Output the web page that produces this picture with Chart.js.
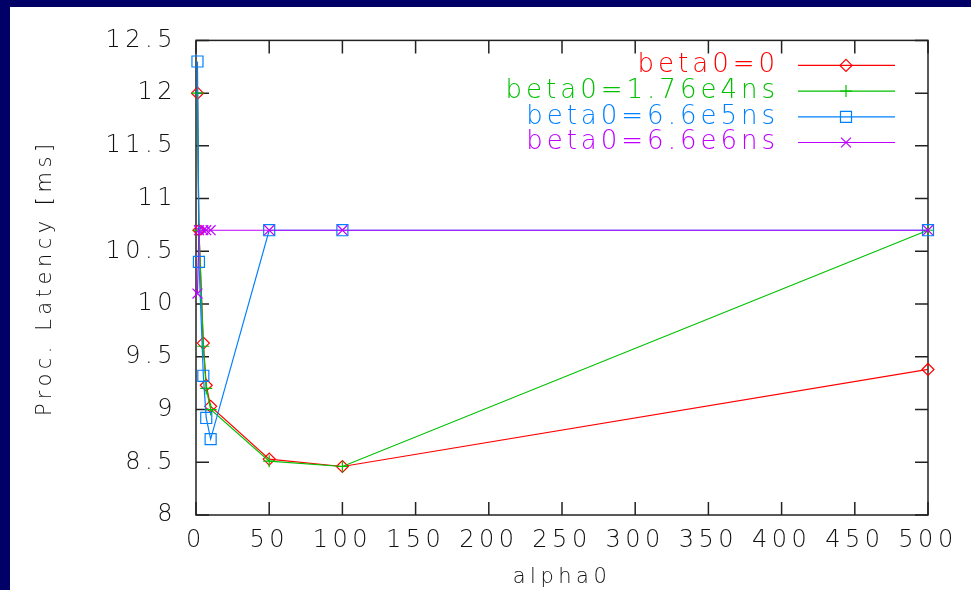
<!DOCTYPE html>
<html>
<head>
<meta charset="utf-8">
<script src="https://cdn.jsdelivr.net/npm/chart.js@4/dist/chart.umd.min.js"></script>
<style>
  html, body { margin: 0; padding: 0; background: #000066; overflow: hidden; }
  #frame { position: absolute; left: 10px; top: 7px; right: -40px; bottom: -40px; background: #fff; }
</style>
</head>
<body>
<div id="frame"><canvas id="myChart" width="961" height="583"></canvas></div>
<script>
    // alpha0 values and latency per beta0 setting
    var alphas = [1, 2, 5, 7, 10, 50, 100, 500];
    var beta0_0 = [12.0, 10.7, 9.63, 9.23, 9.03, 8.53, 8.46, 9.38];
    var beta0_176e4 = [12.0, 10.7, 9.6, 9.2, 9.0, 8.51, 8.46, 10.7];
    var beta0_66e5 = [12.3, 10.4, 9.32, 8.92, 8.72, 10.7, 10.7, 10.7];
    var beta0_66e6 = [10.1, 10.7, 10.7, 10.7, 10.7, 10.7, 10.7, 10.7];
    var seriesNames = ["beta0=0", "beta0=1.76e4ns", "beta0=6.6e5ns", "beta0=6.6e6ns"];
    var xTicks = [0, 50, 100, 150, 200, 250, 300, 350, 400, 450, 500];
    var yTicks = [8, 8.5, 9, 9.5, 10, 10.5, 11, 11.5, 12, 12.5];

    function pts(ys) {
      var out = [];
      for (let i = 0; i < alphas.length; i++) {
        out.push({x: alphas[i], y: ys[i]});
      }
      return out;
    }

    function series(name, ys, color, style, radius, order) {
      return {
        label: name,
        data: pts(ys),
        showLine: true,
        borderColor: color,
        backgroundColor: 'rgba(0,0,0,0)',
        borderWidth: 1.2,
        pointStyle: style,
        pointRadius: radius,
        pointBorderColor: color,
        pointBackgroundColor: 'rgba(0,0,0,0)',
        pointBorderWidth: 1.2,
        clip: false,
        order: order
      };
    }

    var textFont = "'DejaVu Sans', sans-serif";

    // border box + inward ticks on all four sides, gnuplot style
    var frameTicks = {
      id: 'frameTicks',
      beforeDraw: function (chart) {
        chart.ctx.letterSpacing = '4.5px';
      },
      beforeDatasetsDraw: function (chart) {
        var ctx = chart.ctx, a = chart.chartArea;
        var xs = chart.scales.x, ys = chart.scales.y;
        ctx.save();
        ctx.strokeStyle = '#222';
        ctx.lineWidth = 1.5;
        ctx.strokeRect(a.left, a.top, a.right - a.left, a.bottom - a.top);
        ctx.beginPath();
        xs.ticks.forEach(function (t) {
          var px = xs.getPixelForValue(t.value);
          ctx.moveTo(px, a.bottom); ctx.lineTo(px, a.bottom - 13);
          ctx.moveTo(px, a.top); ctx.lineTo(px, a.top + 13);
        });
        ys.ticks.forEach(function (t) {
          var py = ys.getPixelForValue(t.value);
          ctx.moveTo(a.left, py); ctx.lineTo(a.left + 13, py);
          ctx.moveTo(a.right, py); ctx.lineTo(a.right - 13, py);
        });
        ctx.stroke();
        ctx.restore();
      },
      // legend: text right aligned, line sample with marker on the right
      afterDatasetsDraw: function (chart) {
        var ctx = chart.ctx, a = chart.chartArea;
        var sets = chart.data.datasets;
        ctx.save();
        ctx.letterSpacing = '4px';
        ctx.font = "200 26px " + textFont;
        ctx.textAlign = 'right';
        ctx.textBaseline = 'middle';
        for (let i = 0; i < sets.length; i++) {
          var ds = sets[i];
          var y = a.top + 25 + i * 25.7;
          ctx.fillStyle = ds.borderColor;
          ctx.fillText(ds.label, a.right - 149, y);
          ctx.strokeStyle = ds.borderColor;
          ctx.lineWidth = 1.2;
          ctx.beginPath();
          ctx.moveTo(a.right - 130, y);
          ctx.lineTo(a.right - 33, y);
          ctx.stroke();
          ctx.fillStyle = 'rgba(0,0,0,0)';
          Chart.helpers.drawPoint(ctx, {
            pointStyle: ds.pointStyle, radius: ds.pointRadius, rotation: 0, borderWidth: 1.2
          }, a.right - 82, y);
        }
        ctx.restore();
      }
    };

    var myChart = new Chart("myChart", {
      type: "scatter",
      data: {
        datasets: [
          series(seriesNames[0], beta0_0, '#ff0000', 'rectRot', 6, 4),
          series(seriesNames[1], beta0_176e4, '#00c000', 'cross', 6, 3),
          series(seriesNames[2], beta0_66e5, '#0080ff', 'rect', 7.8, 2),
          series(seriesNames[3], beta0_66e6, '#c000ff', 'crossRot', 7, 1)
        ]
      },
      plugins: [frameTicks],
      options: {
        responsive: false,
        animation: false,
        layout: { padding: { top: 31, right: 43, left: 0, bottom: 0 } },
        plugins: {
          legend: { display: false },
          tooltip: { enabled: false }
        },
        scales: {
          x: {
            type: 'linear',
            min: 0,
            max: 500,
            afterFit: function (s) { s.height = 75; },
            afterBuildTicks: function (s) { s.ticks = xTicks.map(function (v) { return {value: v}; }); },
            grid: { display: false, drawTicks: false },
            border: { display: false },
            ticks: {
              padding: 11,
              color: '#111',
              font: { family: textFont, size: 24, weight: 200 },
              maxRotation: 0,
              autoSkip: false,
              callback: function (v) { return String(v); }
            },
            title: {
              display: true,
              text: 'alpha0',
              color: '#111',
              font: { family: textFont, size: 21, weight: 200 },
              padding: { top: 0, bottom: 0 }
            }
          },
          y: {
            type: 'linear',
            min: 8,
            max: 12.5,
            afterFit: function (s) { s.width = 186; },
            afterBuildTicks: function (s) { s.ticks = yTicks.map(function (v) { return {value: v}; }); },
            grid: { display: false, drawTicks: false },
            border: { display: false },
            ticks: {
              padding: 19,
              color: '#111',
              font: { family: textFont, size: 24, weight: 200 },
              autoSkip: false,
              callback: function (v) { return String(v); }
            },
            title: {
              display: true,
              text: 'Proc. Latency [ms]',
              color: '#111',
              font: { family: textFont, size: 21, weight: 200 },
              padding: { top: 23, bottom: 0 }
            }
          }
        }
      }
    });
</script>
</body>
</html>
